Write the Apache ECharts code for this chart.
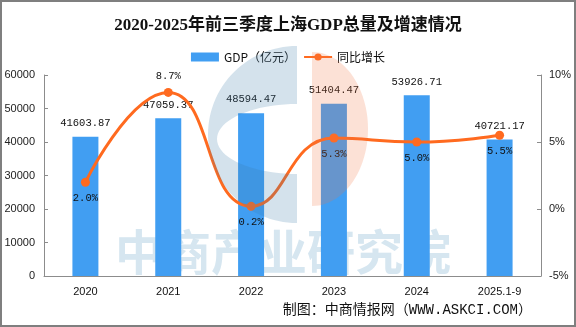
<!DOCTYPE html>
<html>
<head>
<meta charset="utf-8">
<script src="https://cdn.jsdelivr.net/npm/echarts@6/dist/echarts.min.js"></script>
<style>
  html, body { margin: 0; padding: 0; background: #fff; }
  #chart { width: 576px; height: 327px; }
</style>
</head>
<body>
<div id="chart"></div>
<script>
// Shanghai GDP, first three quarters, 2020-2025
const years = ['2020', '2021', '2022', '2023', '2024', '2025.1-9'];
const gdpValues = [41603.87, 47059.37, 48594.47, 51404.47, 53926.71, 40721.17];
const growthRates = [2.0, 8.7, 0.2, 5.3, 5.0, 5.5];
const leftTicks = { min: 0, max: 60000, interval: 10000 };
const rightTicks = { min: -5, max: 10, interval: 5 };

const BAR_COLOR = '#419ef2';
const LINE_COLOR = '#ff6a1f';
const AXIS_COLOR = '#8c8c8c';
const monoFont = '"Liberation Mono", "DejaVu Sans Mono", monospace';
const cjkFont = '"Noto Sans CJK SC", sans-serif';
const axisFont = '"Liberation Sans", Arial, sans-serif';

// points along an elliptical arc, angles in degrees (screen coordinates)
function arcPoints(cx, cy, rx, ry, fromDeg, toDeg, steps) {
  const pts = [];
  for (let i = 0; i <= steps; i++) {
    const a = (fromDeg + (toDeg - fromDeg) * i / steps) * Math.PI / 180;
    pts.push([cx + rx * Math.cos(a), cy + ry * Math.sin(a)]);
  }
  return pts;
}

// logo shapes: a "C" ring and a half disc
const logoC = arcPoints(297, 134.5, 89, 88.5, -90, -270, 60)
  .concat(arcPoints(297, 139, 80, 35, 90, 270, 40));
const logoHalf = arcPoints(312, 129, 56, 77, -90, 90, 50);

// growth labels sit below their points, except where the curve peaks
const growthData = growthRates.map((v, i) => {
  const prev = i > 0 ? growthRates[i - 1] : -Infinity;
  const next = i < growthRates.length - 1 ? growthRates[i + 1] : -Infinity;
  const peak = v > prev && v > next && v - Math.max(prev, next) > 2;
  return { value: v, label: { position: peak ? 'top' : 'bottom' } };
});

const chart = echarts.init(document.getElementById('chart'), null, { renderer: 'canvas' });

chart.setOption({
  animation: false,
  backgroundColor: '#fff',
  title: {
    text: '2020-2025年前三季度上海GDP总量及增速情况',
    left: 'center',
    top: 12,
    textStyle: {
      fontFamily: '"Liberation Serif", "Noto Sans CJK SC", serif',
      fontWeight: 'bold',
      fontSize: 17,
      color: '#111'
    }
  },
  legend: {
    left: 'center',
    top: 46,
    itemGap: 7,
    itemWidth: 28,
    itemHeight: 9,
    textStyle: { fontFamily: cjkFont, fontSize: 12, color: '#111' },
    data: [
      { name: 'GDP（亿元）', icon: 'rect' },
      { name: '同比增长' }
    ]
  },
  grid: { left: 44, right: 35, top: 75, bottom: 51 },
  xAxis: {
    type: 'category',
    data: years,
    boundaryGap: true,
    axisLine: { lineStyle: { color: AXIS_COLOR } },
    axisTick: { inside: true, length: 4, lineStyle: { color: AXIS_COLOR } },
    axisLabel: { color: '#111', fontSize: 11, margin: 10, fontFamily: axisFont }
  },
  yAxis: [
    {
      type: 'value',
      min: leftTicks.min, max: leftTicks.max, interval: leftTicks.interval,
      splitLine: { show: false },
      axisLine: { show: true, lineStyle: { color: AXIS_COLOR } },
      axisTick: { show: true, inside: true, length: 4, lineStyle: { color: AXIS_COLOR } },
      axisLabel: { color: '#222', fontSize: 11, margin: 9, fontFamily: axisFont, formatter: v => String(v) }
    },
    {
      type: 'value',
      position: 'right',
      min: rightTicks.min, max: rightTicks.max, interval: rightTicks.interval,
      splitLine: { show: false },
      axisLine: { show: true, lineStyle: { color: AXIS_COLOR } },
      axisTick: { show: true, inside: true, length: 4, lineStyle: { color: AXIS_COLOR } },
      axisLabel: { color: '#222', fontSize: 11, margin: 8, formatter: v => v + '%', fontFamily: axisFont }
    }
  ],
  graphic: [
    // outer frame
    {
      type: 'rect', z: 200, silent: true,
      shape: { x: 1, y: 1, width: 574, height: 325 },
      style: { fill: 'none', stroke: '#7f7f7f', lineWidth: 2 }
    },
    // watermark text behind the bars
    {
      type: 'text', z: 0, silent: true,
      x: 115, y: 228,
      style: {
        text: '中商产业研究院',
        font: 'bold 48px "Noto Sans CJK SC", sans-serif',
        fill: '#d6e6f0'
      }
    },
    // logo overlay: blue "C"
    {
      type: 'polygon', z: 100, silent: true,
      shape: { points: logoC },
      style: { fill: 'rgba(60,125,170,0.22)' }
    },
    // logo overlay: orange half disc
    {
      type: 'polygon', z: 100, silent: true,
      shape: { points: logoHalf },
      style: { fill: 'rgba(240,120,70,0.22)' }
    },
    // source note
    {
      type: 'text', z: 10, silent: true,
      x: 532, y: 303,
      style: {
        text: '制图：中商情报网（WWW.ASKCI.COM）',
        font: '14px "Liberation Mono", "Noto Sans CJK SC", monospace',
        fill: '#111',
        align: 'right'
      }
    }
  ],
  series: [
    {
      name: 'GDP（亿元）',
      type: 'bar',
      yAxisIndex: 0,
      barWidth: 26,
      data: gdpValues,
      itemStyle: { color: BAR_COLOR },
      label: {
        show: true,
        position: 'top',
        distance: 8,
        color: '#111',
        fontSize: 10.5,
        fontFamily: monoFont,
        formatter: p => p.value.toFixed(2)
      },
      z: 2
    },
    {
      name: '同比增长',
      type: 'line',
      yAxisIndex: 1,
      smooth: 0.5,
      data: growthData,
      symbol: 'circle',
      symbolSize: 9,
      lineStyle: { color: LINE_COLOR, width: 3 },
      itemStyle: { color: LINE_COLOR },
      label: {
        show: true,
        distance: 6,
        color: '#111',
        fontSize: 10.5,
        fontFamily: monoFont,
        formatter: p => p.value.toFixed(1) + '%'
      },
      z: 3
    }
  ]
});
</script>
</body>
</html>
